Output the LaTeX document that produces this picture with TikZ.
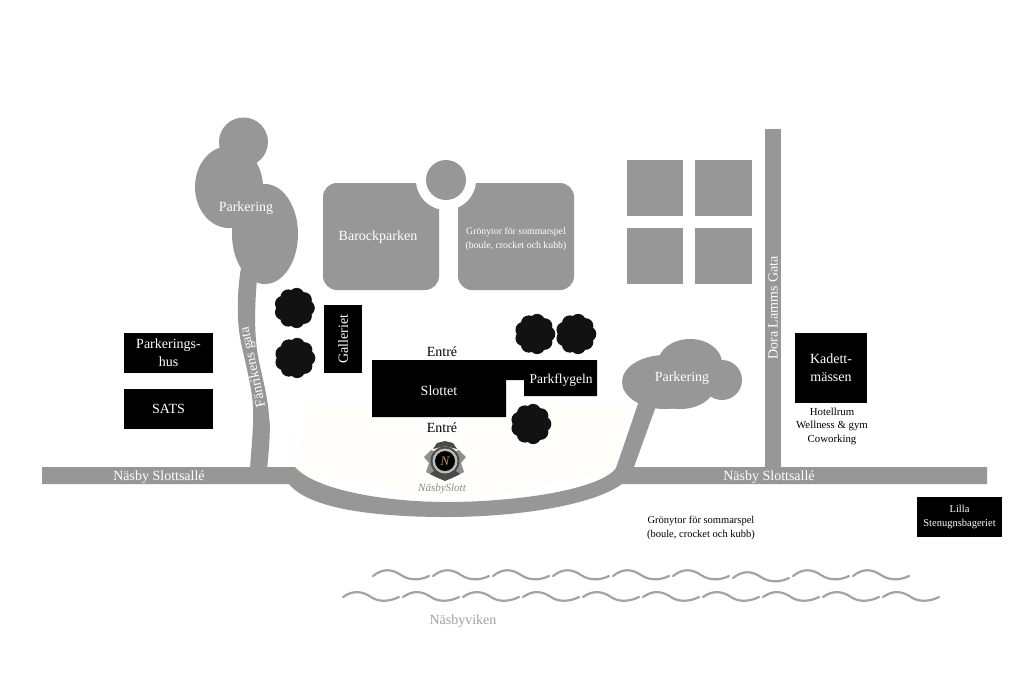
\documentclass[tikz,border=0pt]{standalone}
\usepackage{fontspec}
\setmainfont{Liberation Serif}
\definecolor{roadgrey}{HTML}{969796}
\definecolor{cream}{HTML}{FFFEFB}
\definecolor{wavegrey}{HTML}{A3A3A3}
\definecolor{lakegrey}{HTML}{A0A0A0}
\definecolor{crestdark}{HTML}{4A4A48}
\definecolor{crestmid}{HTML}{8E8E8C}
\definecolor{crestgold}{HTML}{B89A5A}
\tikzset{
  greyfill/.style={fill=roadgrey,draw=none},
  blackbox/.style={fill=black,draw=none,text=white,align=center,inner sep=0pt,font=\fontsize{14}{18}\selectfont},
  onmap/.style={text=white,align=center,inner sep=0pt,font=\fontsize{14}{16}\selectfont},
  darktext/.style={text=black,align=center,inner sep=0pt,font=\fontsize{14}{16}\selectfont},
  smalltext/.style={align=center,inner sep=0pt,font=\fontsize{10.5}{14}\selectfont},
  wave/.style={draw=wavegrey,line width=2.2pt,line cap=round},
  treeblob/.pic={
    \fill[black!93] (0,0) circle (14);
    \foreach \a in {0,40,...,320}{\fill[black!93] (\a:12.5) circle (7.8);}
  }
}
\begin{document}
\begin{tikzpicture}[x=1pt,y=-1pt]
\useasboundingbox (0,0) rectangle (1024,672);
\fill[white] (0,0) rectangle (1024,672);
% cream forecourt
\fill[cream] (302,405) -- (650,405) -- (625,470) -- (447,505) -- (296,470) -- cycle;
% left parking
\fill[greyfill] (243.5,142) circle (24.5);
\fill[greyfill] (229,187) ellipse [x radius=34,y radius=41];
\fill[greyfill] (265,234) ellipse [x radius=33,y radius=50];
% Fanrikens gata
\fill[greyfill] (241,268) .. controls (238,285) and (236,315) .. (240,337) .. controls (243,355) and (252,385) .. (253,407) .. controls (254,425) and (251,450) .. (250,470) -- (267,470) .. controls (269,450) and (271,425) .. (269,417) .. controls (268,395) and (260,370) .. (257,350) .. controls (254,325) and (255,305) .. (257,278) -- cycle;
% main road with loop
\fill[greyfill] (42,467) -- (295,467) .. controls (315,490) and (385,502) .. (447,502) .. controls (515,502) and (600,490) .. (616,468) -- (641,395) -- (660,395) -- (634,467) -- (987,467) -- (987,484) -- (622,484) .. controls (590,507) and (510,517) .. (447,517) .. controls (380,517) and (310,510) .. (289,484) -- (42,484) -- cycle;
% right parking
\fill[greyfill] (665,382) ellipse [x radius=43,y radius=27];
\fill[greyfill] (690,363) ellipse [x radius=32,y radius=24];
\fill[greyfill] (722,380) circle (20);
\fill[greyfill] (680,385) ellipse [x radius=35,y radius=24];
% Dora Lamms
\fill[greyfill] (765,129) rectangle (781,468);
% parks
\fill[greyfill,rounded corners=14pt] (323,183) rectangle (439,290);
\fill[greyfill,rounded corners=14pt] (458,183) rectangle (574,290);
\fill[white] (446,180) circle (30);
\fill[greyfill] (446,180) circle (20);
% blocks
\fill[greyfill] (627,160) rectangle (683,216);
\fill[greyfill] (695,160) rectangle (752,216);
\fill[greyfill] (627,228) rectangle (683,284);
\fill[greyfill] (695,228) rectangle (752,284);
% castle
\fill[black] (372,360) -- (597,360) -- (597,396) -- (524,396) -- (524,380) -- (506,380) -- (506,417) -- (372,417) -- cycle;
% trees
\pic at (294.5,308) {treeblob};
\pic at (295,358) {treeblob};
\pic at (535,334) {treeblob};
\pic at (576,334) {treeblob};
\pic at (531,424) {treeblob};
% boxes
\node[blackbox,minimum width=38pt,minimum height=68pt] (galleriet) at (343,339) {\rotatebox{90}{Galleriet}};
\node[blackbox,minimum width=89pt,minimum height=40pt] (phus) at (168.5,353) {Parkerings-\\hus};
\node[blackbox,minimum width=89pt,minimum height=40pt] (sats) at (168.5,409) {SATS};
\node[blackbox,minimum width=72pt,minimum height=70pt] (kadett) at (831,368) {Kadett-\\mässen};
\node[blackbox,minimum width=85pt,minimum height=40pt,font=\fontsize{10.5}{14}\selectfont] (lilla) at (959.5,517) {Lilla\\Stenugnsbageriet};
% labels
\node[onmap] (p1) at (246,208) {Parkering};
\node[onmap] (p2) at (682,378) {Parkering};
\node[onmap] (baro) at (378,237) {Barockparken};
\node[onmap,smalltext,text=white,font=\fontsize{9.8}{13.5}\selectfont] (gron1) at (516,239) {Grönytor för sommarspel\\(boule, crocket och kubb)};
\node[onmap] (slottet) at (439,391) {Slottet};
\node[onmap,font=\fontsize{13.5}{16}\selectfont] (parkf) at (561,380) {Parkflygeln};
\node[darktext] (e1) at (442,352) {Entré};
\node[darktext] (e2) at (442,428) {Entré};
\node[onmap,rotate=102] (fan) at (253.5,367) {Fänrikens gata};
\node[onmap,rotate=90] (dora) at (773,308) {Dora Lamms Gata};
\node[onmap] (n1) at (159,477) {Näsby Slottsallé};
\node[onmap] (n2) at (769,477) {Näsby Slottsallé};
\node[smalltext,text=black] (gron2) at (701,528) {Grönytor för sommarspel\\(boule, crocket och kubb)};
\node[smalltext,text=black,font=\fontsize{10.8}{13.5}\selectfont] (hotel) at (832,426) {Hotellrum\\Wellness \& gym\\Coworking};
\node[darktext,text=lakegrey] (lake) at (463,621) {Näsbyviken};
% waves
\foreach \i/\dy in {0/0,1/0,2/0,3/0,4/0,5/0,6/2,7/0,8/0}{
  \draw[wave,shift={(373+60*\i,576+\dy)}] (0,0) .. controls (10,-8) and (19,-7) .. (28,-1) .. controls (35,4) and (46,5) .. (56,0);
}
\foreach \i in {0,...,9}{
  \draw[wave,shift={(343+60*\i,597)}] (0,0) .. controls (10,-7) and (19,-6) .. (28,0) .. controls (35,5) and (46,5) .. (56,0);
}
% crest logo
\fill[crestmid] (424,457) -- (431,450) -- (437,452) -- (445,445) -- (453,452) -- (459,450) -- (466,457) -- (461,463) -- (464,472) -- (456,476) -- (445,480) -- (434,476) -- (426,472) -- (429,463) -- cycle;
\fill[crestdark] (433,449) -- (437,443) -- (445,441) -- (453,443) -- (457,449) -- (445,446) -- cycle;
\fill[crestdark] (430,474) -- (438,478) -- (445,481) -- (452,478) -- (460,474) -- (456,471) -- (434,471) -- cycle;
\fill[crestdark] (445,461) circle (14.5);
\fill[crestmid!60] (445,461) circle (12.5);
\fill[black] (445,461) circle (10);
\node[inner sep=0pt,text=crestgold,font=\itshape\fontsize{13}{13}\selectfont] (crestn) at (445,461) {N};
\node[inner sep=0pt,text=black!45,font=\itshape\fontsize{11}{11}\selectfont] (cresttxt) at (442,489) {NäsbySlott};
\end{tikzpicture}
\end{document}
